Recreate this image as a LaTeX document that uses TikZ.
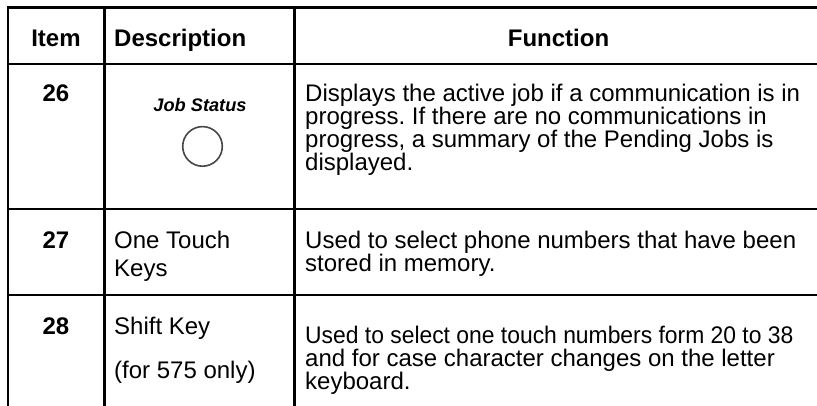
\documentclass[tikz,border=0pt]{standalone}
\usepackage{fontspec}
\setmainfont{Liberation Sans}
\frenchspacing
\begin{document}
\begin{tikzpicture}[x=1bp,y=-1bp,
  rule/.style={line width=2.2bp, black, line cap=rect},
  head/.style={inner sep=0pt, font=\fontsize{24bp}{24bp}\selectfont\bfseries},
  num/.style={inner sep=0pt, anchor=base, font=\fontsize{24bp}{24bp}\selectfont\bfseries},
  body/.style={inner sep=0pt, anchor=base west, font=\fontsize{24bp}{22.8bp}\selectfont},
  desc/.style={inner sep=0pt, anchor=base west, font=\fontsize{24bp}{27.7bp}\selectfont},
  keylabel/.style={inner sep=0pt, anchor=base, font=\fontsize{18.2bp}{18.2bp}\selectfont\bfseries\itshape},
  keybutton/.style={circle, draw=black!72, line width=1.6bp, minimum size=39.6bp, inner sep=0pt}
]
\useasboundingbox (0,0) rectangle (817,405);

% table rules
\foreach \y in {7.5,64.3,209.3,295.3}
  \draw[rule] (8,\y) -- (817,\y);
\foreach \x in {8,104.5,294.5}
  \draw[rule] (\x,7.5) -- (\x,405);

% header row
\node[head, anchor=base] (hItem) at (56,46) {Item};
\node[head, anchor=base west] (hDesc) at (114,46) {Description};
\node[head, anchor=base] (hFunc) at (558.5,46) {Function};

% item 26
\node[num] (n26) at (56,101.7) {26};
\node[keylabel] (jsLabel) at (200,111) {Job Status};
\node[keybutton] (jsKey) at (202.5,146.4) {};
\node[body] (f26) at (305,101.7) {\parbox[t]{520bp}{\raggedright
  Displays the active job if a communication is in\\
  progress. If there are no communications in\\
  progress, a summary of the Pending Jobs is\\
  displayed.}};

% item 27
\node[num] (n27) at (56,248.3) {27};
\node[desc] (d27) at (114,248.3) {\parbox[t]{175bp}{\raggedright One Touch\\Keys}};
\node[body] (f27) at (305,248.3) {\parbox[t]{520bp}{\raggedright
  Used to select phone numbers that have been\\
  stored in memory.}};

% item 28
\node[num] (n28) at (56,334.8) {28};
\node[desc] (d28) at (114,334.8) {\parbox[t]{175bp}{\raggedright Shift Key\\[15.6bp](for 575 only)}};
\node[body] (f28) at (305,343.8) {\parbox[t]{520bp}{\raggedright
  \scalebox{0.953}[1]{Used to select one touch numbers form 20 to 38}\\
  and for case character changes on the letter\\
  keyboard.}};
\end{tikzpicture}
\end{document}
